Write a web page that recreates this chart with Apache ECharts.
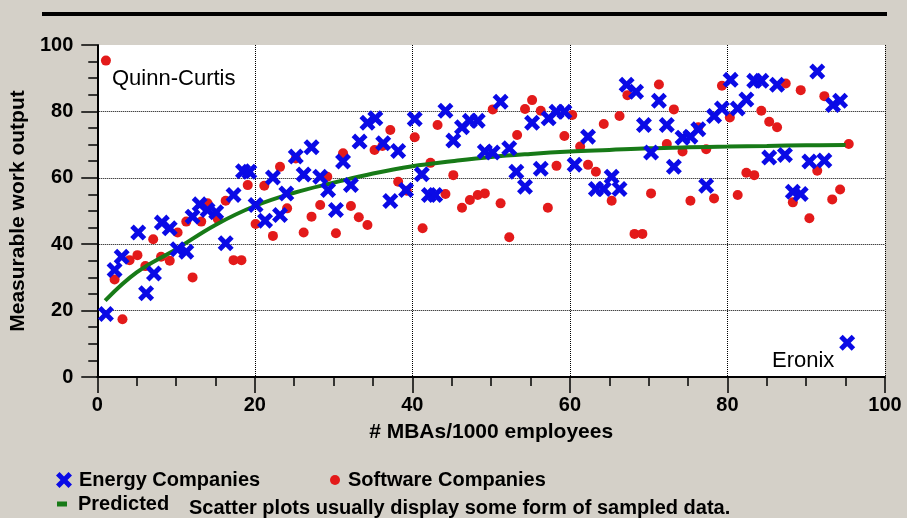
<!DOCTYPE html>
<html>
<head>
<meta charset="utf-8">
<script src="https://cdn.jsdelivr.net/npm/echarts@6/dist/echarts.min.js"></script>
<style>
html,body{margin:0;padding:0;background:#d4d0c8;}
#chart{width:907px;height:518px;}
</style>
</head>
<body>
<div id="chart"></div>
<script>
// ---- data ----
var energyX = [1.1,2.2,3.1,5.2,6.2,7.2,8.2,9.2,10.2,11.3,12.1,13.0,14.0,15.1,16.3,17.3,18.5,19.3,20.1,21.3,22.3,23.2,24.0,25.2,26.2,27.2,28.3,29.3,30.3,31.2,32.2,33.3,34.3,35.3,36.3,37.2,38.2,39.2,40.3,41.2,42.1,42.9,44.2,45.2,46.3,47.3,48.3,49.2,50.2,51.2,52.3,53.2,54.3,55.2,56.3,57.3,58.3,59.3,60.6,62.3,63.3,64.3,65.3,66.3,67.2,68.4,69.4,70.3,71.3,72.3,73.2,74.3,75.3,76.3,77.3,78.3,79.3,80.4,81.3,82.4,83.4,84.3,85.3,86.3,87.3,88.3,89.3,90.4,91.4,92.3,93.4,94.3,95.2];
var energyY = [19,32.2,36.2,43.5,25.2,31.2,46.5,44.8,38.5,37.7,48.3,52,50.3,49.6,40.3,54.8,62,61.8,51.8,47.1,60.1,48.8,55.3,66.4,61,69.2,60.3,56.3,50.3,64.9,57.8,70.9,76.6,77.9,70.4,53,68.1,56.3,77.7,61.1,54.8,54.8,80.2,71.2,75.2,77.2,77.2,67.9,67.6,82.9,68.9,61.8,57.3,76.6,62.7,77.9,79.9,79.9,63.9,72.4,56.6,56.6,60.3,56.6,88,85.9,75.9,67.6,83.2,75.9,63.3,72.1,72.4,74.6,57.6,78.6,80.9,89.5,80.9,83.6,89.2,89.2,66.1,88,66.9,55.8,55.1,64.9,92,65.2,81.9,83.2,10.3];

var softwareX = [1.1,2.2,3.2,4.1,5.1,6.1,7.1,8.1,9.2,10.2,11.3,12.1,13.2,14.0,15.3,16.3,17.3,18.3,19.1,20.1,21.2,22.3,23.2,24.1,25.2,26.2,27.2,28.3,29.2,30.3,31.2,32.2,33.2,34.3,35.2,36.2,37.2,38.2,39.3,40.3,41.3,42.3,43.2,44.2,45.2,46.3,47.3,48.3,49.2,50.2,51.2,52.3,53.3,54.3,55.2,56.3,57.2,58.3,59.3,60.3,61.3,62.3,63.3,64.3,65.3,66.3,67.3,68.2,69.2,70.3,71.3,72.3,73.2,74.3,75.3,76.3,77.3,78.3,79.3,80.3,81.3,82.4,83.4,84.3,85.3,86.3,87.4,88.3,89.3,90.4,91.4,92.3,93.3,94.3,95.4];
var softwareY = [95.3,29.4,17.4,35.2,36.7,33.4,41.5,36.2,35,43.5,46.8,30,46.8,52.3,47.6,53.1,35.2,35.2,57.8,46.1,57.6,42.5,63.3,50.8,65.8,43.5,48.3,51.8,60.3,43.3,67.4,51.5,48.1,45.8,68.4,69.6,74.4,58.8,56.1,72.2,44.8,64.5,75.9,55.1,60.8,51,53.3,54.8,55.3,80.6,52.3,42.1,72.9,80.7,83.4,80.2,51,63.6,72.6,78.9,69.4,63.9,61.8,76.2,53.1,78.6,84.9,43.1,43.1,55.3,88.1,70.2,80.6,67.9,53.1,75.2,68.6,53.8,87.7,78.2,54.8,61.5,60.8,80.2,76.9,75.2,88.4,52.6,86.4,47.8,62.1,84.6,53.5,56.5,70.2];

var predictedX = [1,5,10,15,20,25,30,35,40,45,50,55,60,65,70,75,80,85,90,95];
var predictedY = [23,31.5,38.5,45.8,51.5,55.5,58.5,61.3,63.5,65,66.3,67.2,67.9,68.4,68.9,69.2,69.4,69.6,69.8,69.9];

var xTicks = [0,20,40,60,80,100];
var yTicks = [0,20,40,60,80,100];

function pairs(xs, ys){ return xs.map(function(x,i){ return [x, ys[i]]; }); }

var FONT = "'Liberation Sans', Arial, sans-serif";
var xSymbol = 'path://M0,2.2L2.2,0L5,2.8L7.8,0L10,2.2L7.2,5L10,7.8L7.8,10L5,7.2L2.2,10L0,7.8L2.8,5Z';

var chart = echarts.init(document.getElementById('chart'), null, {renderer:'canvas'});
var txt = {fontFamily: FONT, fontSize: 20, fontWeight: 'bold', color: '#000'};
var ttl = {fontFamily: FONT, fontSize: 21, fontWeight: 'bold', color: '#000'};

chart.setOption({
  backgroundColor: '#d4d0c8',
  animation: false,
  grid: {left: 95, right: 22, top: 45, bottom: 141, show: true, backgroundColor: '#ffffff', borderWidth: 0},
  xAxis: {
    type: 'value', min: xTicks[0], max: xTicks[xTicks.length-1], interval: 20,
    name: '# MBAs/1000 employees', nameLocation: 'middle', nameGap: 45,
    nameTextStyle: ttl,
    axisLine: {show: true, onZero: false, lineStyle: {color: '#000', width: 2}},
    axisTick: {show: true, length: 16, lineStyle: {color: '#000', width: 1.5}},
    minorTick: {show: true, splitNumber: 4, length: 9, lineStyle: {color: '#000', width: 1.5}},
    splitLine: {show: true, showMinLine: false, showMaxLine: true, lineStyle: {color: '#000', type: 'dotted', width: 1}},
    axisLabel: Object.assign({margin: 18}, txt)
  },
  yAxis: {
    type: 'value', min: yTicks[0], max: yTicks[yTicks.length-1], interval: 20,
    name: 'Measurable work output', nameLocation: 'middle', nameGap: 66,
    nameTextStyle: ttl,
    axisLine: {show: true, onZero: false, lineStyle: {color: '#000', width: 2}},
    axisTick: {show: true, length: 16, lineStyle: {color: '#000', width: 1.5}},
    minorTick: {show: true, splitNumber: 4, length: 9, lineStyle: {color: '#000', width: 1.5}},
    splitLine: {show: true, showMinLine: false, showMaxLine: false, lineStyle: {color: '#000', type: 'dotted', width: 1}},
    axisLabel: Object.assign({margin: 24}, txt)
  },
  legend: [
    {data: ['Energy Companies'], left: 51, top: 465, itemWidth: 16, itemHeight: 16, itemGap: 0,
     textStyle: Object.assign({padding: [0,0,0,2]}, txt)},
    {data: ['Software Companies'], left: 325, top: 465, itemWidth: 10, itemHeight: 10, itemGap: 0,
     textStyle: Object.assign({padding: [0,0,0,3]}, txt)},
    {data: [{name: 'Predicted', icon: 'rect'}], left: 52, top: 489, itemWidth: 10, itemHeight: 5, itemGap: 0,
     textStyle: Object.assign({padding: [0,0,0,6]}, txt)}
  ],
  graphic: [
    {type: 'rect', left: 42, top: 12, shape: {width: 845, height: 4}, style: {fill: '#000'}},
    {type: 'text', left: 112, top: 68, style: {text: 'Quinn-Curtis', font: 'normal 22px ' + FONT, fill: '#000'}, z: 10},
    {type: 'text', left: 772, top: 350, style: {text: 'Eronix', font: 'normal 22px ' + FONT, fill: '#000'}, z: 10},
    {type: 'text', left: 189, top: 498, style: {text: 'Scatter plots usually display some form of sampled data.', font: 'bold 20px ' + FONT, fill: '#000'}}
  ],
  series: [
    {name: 'Energy Companies', type: 'scatter', data: pairs(energyX, energyY), symbol: xSymbol, symbolSize: 16,
     itemStyle: {color: '#0a0ae6', opacity: 1}, z: 4},
    {name: 'Software Companies', type: 'scatter', data: pairs(softwareX, softwareY), symbol: 'circle', symbolSize: 10,
     itemStyle: {color: '#e31a1a', opacity: 1}, z: 2},
    {name: 'Predicted', type: 'line', data: pairs(predictedX, predictedY), smooth: 0.4, showSymbol: false, symbol: 'none',
     lineStyle: {color: '#177a17', width: 4}, itemStyle: {color: '#177a17'}, z: 3}
  ]
});
</script>
</body>
</html>
